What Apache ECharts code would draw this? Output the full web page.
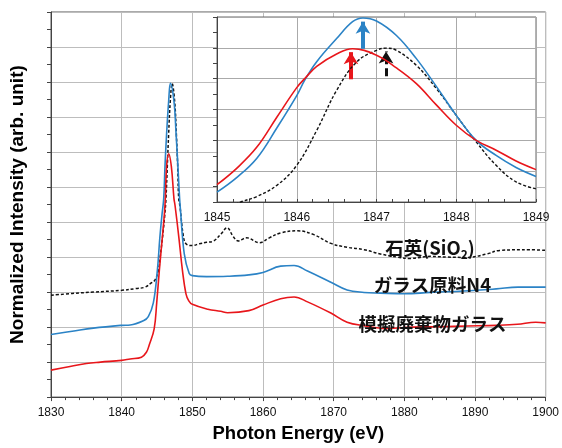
<!DOCTYPE html>
<html>
<head>
<meta charset="utf-8">
<script src="https://cdn.jsdelivr.net/npm/echarts@6/dist/echarts.min.js"></script>
<style>html,body{margin:0;padding:0;background:#fff;}#c{width:562px;height:448px;}</style>
</head>
<body>
<div id="c"></div>
<script>
// ---- main panel data ----
const mainXRange = [1830, 1900, 10];
const mainYRange = [0, 11, 1];
const sio2E = [1830,1833,1836,1840,1842,1843.3,1844.2,1844.7,1845.2,1845.5,1845.8,1846.1,1846.27,1846.46,1846.65,1846.88,1847.14,1847.5,1847.74,1847.93,1848.07,1848.25,1848.7,1849.1,1850,1851,1852,1852.9,1854.1,1854.9,1855.8,1856.5,1857.7,1859.5,1860.9,1862.5,1864.9,1867.2,1869.6,1871.9,1874.3,1876.6,1879,1880.8,1883.7,1886,1888.8,1891.7,1893.5,1897.8,1900];
const sio2I = [2.91,2.96,3.00,3.05,3.10,3.14,3.26,3.34,3.62,4.09,4.60,5.20,5.67,6.59,7.52,8.45,8.96,8.45,7.52,6.59,5.67,5.45,4.64,4.38,4.33,4.38,4.42,4.45,4.67,4.84,4.58,4.46,4.55,4.41,4.55,4.69,4.75,4.64,4.39,4.28,4.21,4.09,4.00,3.96,4.02,4.00,3.99,4.09,4.19,4.21,4.19];
const n4E = [1830,1833,1836,1840,1841.2,1843.07,1843.77,1844.48,1845.05,1845.4,1845.7,1845.95,1846.13,1846.36,1846.65,1846.9,1847.4,1847.7,1847.96,1848.2,1848.3,1848.86,1849.56,1850,1852,1855,1858,1860,1862.5,1864.4,1866.3,1869.6,1871.9,1874.3,1876.6,1880,1883.7,1888.4,1893,1896.1,1900];
const n4I = [1.79,1.88,1.97,2.05,2.06,2.18,2.30,2.69,3.62,4.55,5.20,5.67,6.59,7.52,8.45,8.96,8.45,7.52,6.59,5.67,5.40,4.09,3.53,3.47,3.44,3.45,3.49,3.56,3.74,3.76,3.60,3.28,3.06,2.99,2.97,2.95,2.99,3.03,3.09,3.14,3.14];
const wasteE = [1830,1832.3,1835,1837,1840,1841.2,1842.8,1843.5,1843.9,1844.6,1844.96,1845.33,1845.75,1846.13,1846.36,1846.65,1847.03,1847.4,1847.55,1848.1,1848.6,1849.1,1849.5,1850,1852.2,1854,1855,1858,1860,1862.5,1864.4,1866.3,1869.6,1871.9,1874.3,1877.5,1881.2,1885,1889,1893,1896,1898.6,1900];
const wasteI = [0.77,0.86,0.96,1.00,1.05,1.09,1.14,1.28,1.49,1.95,2.69,3.62,4.55,5.48,6.59,6.95,6.59,5.67,5.48,4.55,3.62,2.95,2.75,2.65,2.51,2.45,2.41,2.47,2.63,2.81,2.86,2.72,2.40,2.14,2.04,1.96,2.00,2.01,2.03,2.05,2.08,2.14,2.12];

// ---- inset data ----
const insetXRange = [1845, 1849, 1];
const insetYRange = [0, 6, 1];
const insSio2E = [1845,1845.3,1845.5,1845.75,1846,1846.25,1846.5,1846.75,1847,1847.12,1847.25,1847.5,1847.75,1848,1848.25,1848.5,1848.75,1849];
const insSio2I = [-0.35,0.0,0.18,0.54,1.19,2.32,3.62,4.54,4.92,4.99,4.92,4.43,3.68,2.81,1.95,1.19,0.65,0.43];
const insN4E = [1845,1845.25,1845.5,1845.75,1846,1846.1,1846.25,1846.5,1846.7,1846.83,1847,1847.25,1847.5,1847.75,1848,1848.25,1848.5,1848.75,1849];
const insN4I = [0.32,0.80,1.42,2.40,3.45,3.95,4.55,5.30,5.85,5.97,5.87,5.40,4.65,3.75,2.81,2.00,1.51,1.12,0.83];
const insWasteE = [1845,1845.25,1845.5,1845.75,1846,1846.1,1846.25,1846.5,1846.7,1847,1847.25,1847.5,1847.75,1848,1848.25,1848.5,1848.75,1849];
const insWasteI = [0.56,1.10,1.78,2.75,3.71,4.00,4.40,4.80,4.97,4.76,4.35,3.84,3.15,2.49,2.00,1.68,1.33,1.05];
// arrows: [x, from, to]
const arrowN4 = [1846.83, 4.97, 5.85];
const arrowWaste = [1846.68, 3.98, 4.86];
const arrowSio2 = [1847.12, 4.08, 4.88];

// ---- labels ----
const labelSio2 = '石英(SiO';
const labelN4 = 'ガラス原料N4';
const labelWaste = '模擬廃棄物ガラス';
const xName = 'Photon Energy (eV)';
const yName = 'Normalized Intensity (arb. unit)';

const zip = (a, b) => a.map((v, i) => [v, b[i]]);
const BLUE = '#2b83c6', RED = '#e8161b', BLACK = '#111';
const FONT = '"Liberation Sans", Arial, sans-serif';
const CJK = '"Noto Sans CJK JP", "Liberation Sans", sans-serif';
const plain = v => String(v);

function arrowLine(a, color, width, type) {
  return {
    silent: true, symbol: ['none', 'arrow'], symbolSize: [11, 12],
    label: { show: false }, emphasis: { disabled: true },
    lineStyle: { color: color, width: width, type: type, opacity: 1 },
    data: [[{ coord: [a[0], a[1]] }, { coord: [a[0], a[2]] }]]
  };
}

const chart = echarts.init(document.getElementById('c'), null, { renderer: 'canvas' });
chart.setOption({
  animation: false,
  backgroundColor: '#fff',
  grid: [
    { left: 51, right: 15, top: 12, bottom: 41, show: true, borderColor: '#555', borderWidth: 1, backgroundColor: '#fff', z: 0 },
    { left: 217, right: 26, top: 17, bottom: 246, show: true, borderColor: '#666', borderWidth: 1, backgroundColor: '#fff', z: 3 }
  ],
  xAxis: [
    { type: 'value', gridIndex: 0, min: mainXRange[0], max: mainXRange[1], interval: mainXRange[2],
      axisLine: { lineStyle: { color: '#444', width: 1 } },
      axisTick: { show: true, inside: false, length: 4, lineStyle: { color: '#444' } },
      minorTick: { show: true, splitNumber: 5, length: 3, lineStyle: { color: '#444' } },
      splitLine: { show: true, lineStyle: { color: '#bdbdbd', width: 1 } },
      axisLabel: { color: '#111', fontSize: 12, fontFamily: FONT, margin: 10, formatter: plain },
      name: xName, nameLocation: 'middle', nameGap: 26,
      nameTextStyle: { color: '#000', fontSize: 18.5, fontWeight: 'bold', fontFamily: FONT } },
    { type: 'value', gridIndex: 1, min: insetXRange[0], max: insetXRange[1], interval: insetXRange[2], z: 4,
      axisLine: { lineStyle: { color: '#444', width: 1 } },
      axisTick: { show: true, inside: true, length: 3, lineStyle: { color: '#444' } },
      minorTick: { show: true, splitNumber: 5, length: 3, lineStyle: { color: '#444' } },
      splitLine: { show: true, lineStyle: { color: '#aaa', width: 1 } },
      axisLabel: { color: '#111', fontSize: 12, fontFamily: FONT, margin: 10, formatter: plain } }
  ],
  yAxis: [
    { type: 'value', gridIndex: 0, min: mainYRange[0], max: mainYRange[1], interval: mainYRange[2],
      axisLine: { show: true, lineStyle: { color: '#444', width: 1 } },
      axisTick: { show: true, inside: false, length: 4, lineStyle: { color: '#444' } },
      minorTick: { show: true, splitNumber: 2, length: 4, lineStyle: { color: '#444' } },
      splitLine: { show: true, lineStyle: { color: '#bdbdbd', width: 1 } },
      axisLabel: { show: false },
      name: yName, nameLocation: 'middle', nameGap: 24,
      nameTextStyle: { color: '#000', fontSize: 19, fontWeight: 'bold', fontFamily: FONT } },
    { type: 'value', gridIndex: 1, min: insetYRange[0], max: insetYRange[1], interval: insetYRange[2], z: 4,
      axisLine: { show: true, lineStyle: { color: '#444', width: 1 } },
      axisTick: { show: true, inside: false, length: 4, lineStyle: { color: '#444' } },
      minorTick: { show: true, splitNumber: 2, length: 4, lineStyle: { color: '#444' } },
      splitLine: { show: true, lineStyle: { color: '#aaa', width: 1 } },
      axisLabel: { show: false } }
  ],
  series: [
    { type: 'line', xAxisIndex: 0, yAxisIndex: 0, data: zip(sio2E, sio2I), showSymbol: false, smooth: 0.4,
      lineStyle: { color: BLACK, width: 1.5, type: [3, 2] }, z: 2 },
    { type: 'line', xAxisIndex: 0, yAxisIndex: 0, data: zip(n4E, n4I), showSymbol: false, smooth: 0.4,
      lineStyle: { color: BLUE, width: 1.6 }, z: 2 },
    { type: 'line', xAxisIndex: 0, yAxisIndex: 0, data: zip(wasteE, wasteI), showSymbol: false, smooth: 0.4,
      lineStyle: { color: RED, width: 1.6 }, z: 2 },
    { type: 'line', xAxisIndex: 1, yAxisIndex: 1, data: zip(insSio2E, insSio2I), showSymbol: false, smooth: 0.4, clip: true,
      lineStyle: { color: BLACK, width: 1.4, type: [3, 2] }, z: 6,
      markLine: arrowLine(arrowSio2, BLACK, 3, [8, 4]) },
    { type: 'line', xAxisIndex: 1, yAxisIndex: 1, data: zip(insN4E, insN4I), showSymbol: false, smooth: 0.4, clip: true,
      lineStyle: { color: BLUE, width: 1.6 }, z: 6,
      markLine: arrowLine(arrowN4, BLUE, 4, 'solid') },
    { type: 'line', xAxisIndex: 1, yAxisIndex: 1, data: zip(insWasteE, insWasteI), showSymbol: false, smooth: 0.4, clip: true,
      lineStyle: { color: RED, width: 1.6 }, z: 6,
      markLine: arrowLine(arrowWaste, RED, 4, 'solid') }
  ],
  graphic: [
    { type: 'text', x: 430, y: 248, z: 20, style: {
        text: '{a|' + labelSio2 + '}{s|2}{a|)}', align: 'center', verticalAlign: 'middle',
        rich: {
          a: { fontSize: 18.5, fontWeight: 'bold', fontFamily: CJK, fill: '#111', lineHeight: 24, verticalAlign: 'middle' },
          s: { fontSize: 12, fontWeight: 'bold', fontFamily: CJK, fill: '#111', lineHeight: 24, verticalAlign: 'bottom' }
        } } },
    { type: 'text', x: 432.5, y: 285, z: 20, style: { text: labelN4, align: 'center', verticalAlign: 'middle',
        fontSize: 18.5, fontWeight: 'bold', fontFamily: CJK, fill: '#111' } },
    { type: 'text', x: 432.6, y: 324, z: 20, style: { text: labelWaste, align: 'center', verticalAlign: 'middle',
        fontSize: 18.5, fontWeight: 'bold', fontFamily: CJK, fill: '#111' } }
  ]
});
</script>
</body>
</html>
